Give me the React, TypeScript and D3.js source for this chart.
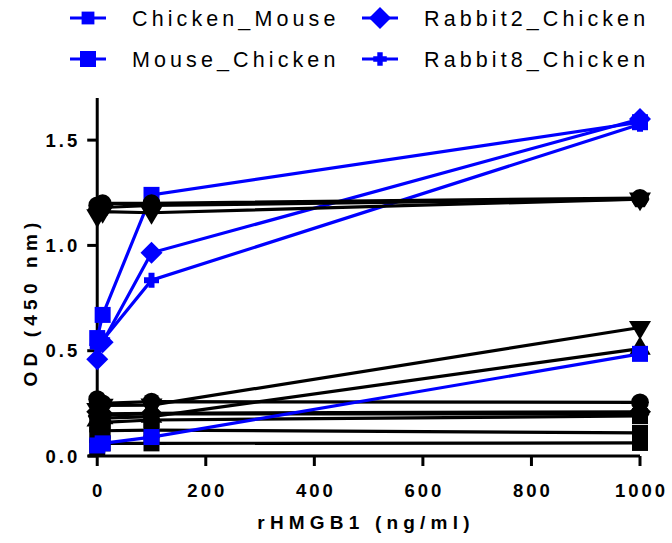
import React from "react";
import * as d3 from "d3";

const doses = [0, 10, 100, 1000];

// Named (blue) series
const chickenMouse = [0.56, 0.67, 1.24, 1.585];
const mouseChicken = [0.05, 0.06, 0.09, 0.485];
const rabbit2Chicken = [0.46, 0.54, 0.965, 1.6];
const rabbit8Chicken = [0.52, 0.55, 0.835, 1.575];

// Unnamed (black) series
const blackTopCircle = [1.19, 1.2, 1.2, 1.225];
const blackTopInvTri = [1.14, 1.16, 1.155, 1.22];
const blackTopHex = [1.17, 1.18, 1.19, 1.22];
const blackLowInvTri = [0.22, 0.24, 0.242, 0.61];
const blackLowTri = [0.17, 0.18, 0.187, 0.51];
const blackLowCircle = [0.27, 0.25, 0.258, 0.255];
const blackLowDiamond = [0.21, 0.2, 0.203, 0.21];
const blackLowHex = [0.19, 0.195, 0.2, 0.2];
const blackLowSq1 = [0.15, 0.16, 0.171, 0.19];
const blackLowSq2 = [0.1, 0.12, 0.123, 0.11];
const blackLowSq3 = [0.04, 0.06, 0.06, 0.062];

const xTicks = [0, 200, 400, 600, 800, 1000];
const yTicks = [0, 0.5, 1.0, 1.5];
const yTickLabels = ["0.0", "0.5", "1.0", "1.5"];

const legendNames = ["Chicken_Mouse", "Rabbit2_Chicken", "Mouse_Chicken", "Rabbit8_Chicken"];

const BLUE = "#0000FF";
const BLACK = "#000000";

type Shape = "square" | "bigsquare" | "circle" | "diamond" | "plus" | "tri" | "invtri" | "hex";

function shapePath(shape: Shape): string {
  switch (shape) {
    case "square":
      return d3.symbol(d3.symbolSquare, 256)() as string;
    case "bigsquare":
      return d3.symbol(d3.symbolSquare, 256)() as string;
    case "circle":
      return d3.symbol(d3.symbolCircle, 250)() as string;
    case "tri":
      return d3.symbol(d3.symbolTriangle, 200)() as string;
    case "invtri": {
      const r = 11;
      return `M${-r},${-r * 0.6}L${r},${-r * 0.6}L0,${r * 1.1}Z`;
    }
    case "diamond": {
      const r = 11;
      return `M0,${-r}L${r},0L0,${r}L${-r},0Z`;
    }
    case "plus": {
      const a = 7.5, t = 3;
      return `M${-t},${-a}H${t}V${-t}H${a}V${t}H${t}V${a}H${-t}V${t}H${-a}V${-t}H${-t}Z`;
    }
    case "hex": {
      const r = 9.5;
      const pts = d3.range(6).map((i) => {
        const ang = (Math.PI / 3) * i;
        return [r * Math.cos(ang), r * Math.sin(ang)];
      });
      return "M" + pts.map((p) => p.join(",")).join("L") + "Z";
    }
  }
}

interface Series {
  values: number[];
  color: string;
  shape: Shape;
}

const lowBlack: Series[] = [
  { values: blackLowSq3, color: BLACK, shape: "square" },
  { values: blackLowSq2, color: BLACK, shape: "square" },
  { values: blackLowSq1, color: BLACK, shape: "square" },
  { values: blackLowHex, color: BLACK, shape: "hex" },
  { values: blackLowDiamond, color: BLACK, shape: "diamond" },
  { values: blackLowCircle, color: BLACK, shape: "circle" },
  { values: blackLowTri, color: BLACK, shape: "tri" },
  { values: blackLowInvTri, color: BLACK, shape: "invtri" },
];

const blueSeries: Series[] = [
  { values: mouseChicken, color: BLUE, shape: "bigsquare" },
  { values: rabbit8Chicken, color: BLUE, shape: "plus" },
  { values: rabbit2Chicken, color: BLUE, shape: "diamond" },
  { values: chickenMouse, color: BLUE, shape: "square" },
];

const topBlack: Series[] = [
  { values: blackTopInvTri, color: BLACK, shape: "invtri" },
  { values: blackTopHex, color: BLACK, shape: "hex" },
  { values: blackTopCircle, color: BLACK, shape: "circle" },
];

const W = 672;
const H = 543;

export default function App() {
  const x = d3.scaleLinear().domain([-17, 1000]).range([88, 640]);
  const y = d3.scaleLinear().domain([0, 1.7]).range([456, 98]);
  const line = d3
    .line<number>()
    .x((_, i) => x(doses[i]))
    .y((v) => y(v));

  const font = "'Liberation Sans', Arial, sans-serif";
  const all = [...lowBlack, ...blueSeries, ...topBlack];

  const renderSeries = (s: Series, key: string) => (
    <g key={key}>
      <path d={line(s.values) as string} fill="none" stroke={s.color} strokeWidth={3.2} />
      {s.values.map((v, i) => (
        <path
          key={i}
          d={shapePath(s.shape)}
          transform={`translate(${x(doses[i])},${y(v)})`}
          fill={s.color}
        />
      ))}
    </g>
  );

  const legendItems = [
    { name: legendNames[0], shape: "square" as Shape, lx: 88, ly: 18, scale: 0.8 },
    { name: legendNames[1], shape: "diamond" as Shape, lx: 380, ly: 18, scale: 1 },
    { name: legendNames[2], shape: "bigsquare" as Shape, lx: 88, ly: 59, scale: 1 },
    { name: legendNames[3], shape: "plus" as Shape, lx: 380, ly: 59, scale: 0.9 },
  ];

  return (
    <svg width={W} height={H} style={{ display: "block", position: "absolute", left: 0, top: 0 }}>
      <rect width={W} height={H} fill="#fff" />
      {/* legend */}
      {legendItems.map((it, i) => (
        <g key={i}>
          <line x1={it.lx - 18} x2={it.lx + 18} y1={it.ly} y2={it.ly} stroke={BLUE} strokeWidth={3} />
          <path d={shapePath(it.shape)} transform={`translate(${it.lx},${it.ly}) scale(${it.scale})`} fill={BLUE} />
          <text
            x={it.lx + 44}
            y={it.ly}
            dy="0.36em"
            fontFamily={font}
            fontSize={21.5}
            letterSpacing={4.1}
            fill="#000"
          >
            {it.name}
          </text>
        </g>
      ))}

      {/* axes */}
      <line x1={x(0)} x2={x(0)} y1={y(0)} y2={y(1.7)} stroke="#000" strokeWidth={3} />
      <line x1={x(-17)} x2={x(1000)} y1={y(0)} y2={y(0)} stroke="#000" strokeWidth={3} />
      {yTicks.map((t, i) => (
        <g key={i}>
          <line x1={x(0) - 10} x2={x(0)} y1={y(t)} y2={y(t)} stroke="#000" strokeWidth={3} />
          <text
            x={x(0) - 17}
            y={y(t)}
            dy="0.36em"
            textAnchor="end"
            fontFamily={font}
            fontWeight="bold"
            fontSize={18.5}
            letterSpacing={3}
          >
            {yTickLabels[i]}
          </text>
        </g>
      ))}
      {xTicks.map((t, i) => (
        <g key={i}>
          <line x1={x(t)} x2={x(t)} y1={y(0)} y2={y(0) + 10} stroke="#000" strokeWidth={3} />
          <text
            x={x(t) + 1.5}
            y={490}
            dy="0.36em"
            textAnchor="middle"
            fontFamily={font}
            fontWeight="bold"
            fontSize={18.5}
            letterSpacing={3}
          >
            {t}
          </text>
        </g>
      ))}
      <text
        x={366}
        y={522}
        dy="0.36em"
        textAnchor="middle"
        fontFamily={font}
        fontWeight="bold"
        fontSize={19}
        letterSpacing={5.2}
      >
        rHMGB1 (ng/ml)
      </text>
      <text
        transform={`translate(30,${(y(0) + y(1.7)) / 2 + 25}) rotate(-90)`}
        dy="0.36em"
        textAnchor="middle"
        fontFamily={font}
        fontWeight="bold"
        fontSize={19}
        letterSpacing={5.2}
      >
        OD (450 nm)
      </text>

      {/* data */}
      {all.map((s, i) => renderSeries(s, "s" + i))}
    </svg>
  );
}
